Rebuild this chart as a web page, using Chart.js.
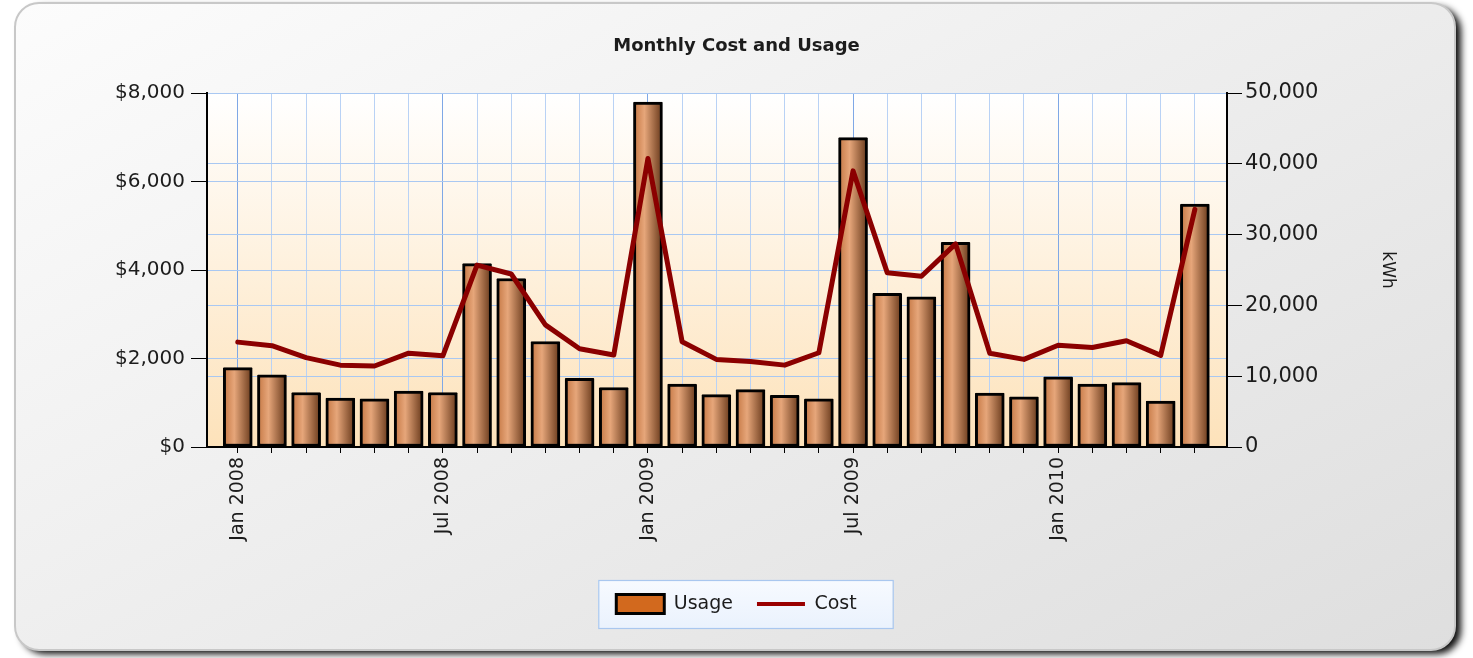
<!DOCTYPE html>
<html><head><meta charset="utf-8">
<script src="https://cdn.jsdelivr.net/npm/chart.js@4.4.1/dist/chart.umd.min.js"></script>
<style>html,body{margin:0;padding:0;background:#fff;overflow:hidden}</style>
</head><body><canvas id="c" width="1473" height="658"></canvas>
<script>
const months = ['Jan 2008','Feb 2008','Mar 2008','Apr 2008','May 2008','Jun 2008','Jul 2008','Aug 2008','Sep 2008','Oct 2008','Nov 2008','Dec 2008',
  'Jan 2009','Feb 2009','Mar 2009','Apr 2009','May 2009','Jun 2009','Jul 2009','Aug 2009','Sep 2009','Oct 2009','Nov 2009','Dec 2009',
  'Jan 2010','Feb 2010','Mar 2010','Apr 2010','May 2010'];
const shownMonthLabels = ['Jan 2008','Jul 2008','Jan 2009','Jul 2009','Jan 2010'];
const usageKWh = [11200,10200,7700,6900,6800,7900,7700,25900,23800,14900,9700,8400,
  48700,8900,7400,8100,7300,6800,43700,21700,21200,28900,7600,7100,
  9900,8900,9100,6500,34300];
const costUSD = [2370,2290,2020,1850,1830,2120,2060,4110,3910,2760,2220,2080,
  6520,2380,1980,1930,1850,2130,6240,3940,3860,4590,2120,1980,
  2300,2250,2400,2070,5370];
const costTicks = [0,2000,4000,6000,8000];
const kwhTicks = [0,10000,20000,30000,40000,50000];

const FONT = "'DejaVu Sans', Verdana, sans-serif";
const TXT = '#1c1c1c';

function rr(ctx,x,y,w,h,r){ctx.beginPath();ctx.moveTo(x+r,y);ctx.arcTo(x+w,y,x+w,y+h,r);ctx.arcTo(x+w,y+h,x,y+h,r);ctx.arcTo(x,y+h,x,y,r);ctx.arcTo(x,y,x+w,y,r);ctx.closePath();}

const backdrop = {
  id: 'backdrop',
  beforeDraw(chart) {
    const ctx = chart.ctx;
    ctx.save();
    ctx.fillStyle = '#ffffff';
    ctx.fillRect(0,0,chart.width,chart.height);
    ctx.save();
    ctx.shadowColor = 'rgba(0,0,0,0.95)';
    ctx.shadowBlur = 7;
    ctx.shadowOffsetX = 6;
    ctx.shadowOffsetY = 4;
    rr(ctx,15,3,1440,647,24);
    ctx.fillStyle = '#333';
    ctx.fill();
    ctx.restore();
    const g = ctx.createLinearGradient(15,3,700,1300);
    g.addColorStop(0,'#fcfcfc');
    g.addColorStop(1,'#d9d9d9');
    rr(ctx,15,3,1440,647,24);
    ctx.fillStyle = g;
    ctx.fill();
    ctx.lineWidth = 2;
    ctx.strokeStyle = '#c8c8c8';
    ctx.stroke();
    const a = chart.chartArea;
    const pg = ctx.createLinearGradient(0,a.top,0,a.bottom);
    pg.addColorStop(0,'#ffffff');
    pg.addColorStop(1,'#fde2ba');
    ctx.fillStyle = pg;
    ctx.fillRect(a.left,a.top,a.right-a.left,a.bottom-a.top);
    const lg = chart.legend;
    if (lg && lg.legendHitBoxes && lg.legendHitBoxes.length) {
      const hb = lg.legendHitBoxes;
      const l = hb[0].left - 18;
      const r = hb[hb.length-1].left + hb[hb.length-1].width + 36;
      const cy = hb[0].top + hb[0].height/2;
      const fg = ctx.createLinearGradient(0,cy-24,0,cy+24);
      fg.addColorStop(0,'#f7faff');
      fg.addColorStop(1,'#eaf2fd');
      ctx.fillStyle = fg;
      ctx.fillRect(l,cy-24,r-l,48);
      ctx.lineWidth = 1.2;
      ctx.strokeStyle = '#a9c7ef';
      ctx.strokeRect(l+0.5,cy-24+0.5,r-l,48);
    }
    ctx.restore();
  }
};

const barFill = (c) => {
  const xs = c.chart.scales.x;
  if (c.type !== 'data' || !xs) return '#d2691e';
  const cx = xs.getPixelForValue(c.dataIndex);
  const g = c.chart.ctx.createLinearGradient(cx-14.5,0,cx+14.5,0);
  g.addColorStop(0,'#c47642');
  g.addColorStop(0.38,'#e6a67a');
  g.addColorStop(1,'#663719');
  return g;
};

new Chart(document.getElementById('c'), {
  data: {
    datasets: [
      {
        type: 'line', label: 'Cost', order: 1, yAxisID: 'y',
        data: costUSD.map((v,i)=>({x:i,y:v})),
        borderColor: '#8b0000', backgroundColor: '#8b0000', borderWidth: 5,
        pointRadius: 0, tension: 0, borderJoinStyle: 'round', borderCapStyle: 'round'
      },
      {
        type: 'bar', label: 'Usage', order: 2, yAxisID: 'y1',
        data: usageKWh.map((v,i)=>({x:i,y:v})),
        backgroundColor: barFill, borderColor: '#000', borderWidth: 3,
        borderSkipped: false, barThickness: 29, borderRadius: 1
      }
    ]
  },
  options: {
    responsive: false, animation: false, devicePixelRatio: 1,
    layout: { padding: { left: 0, right: 0, top: 0, bottom: 34.5 } },
    plugins: {
      title: { display: true, text: 'Monthly Cost and Usage', color: TXT,
        font: { family: FONT, size: 18, weight: 'bold' }, padding: { top: 35.2, bottom: 36.2 } },
      legend: {
        display: true, position: 'bottom',
        labels: {
          usePointStyle: true, pointStyleWidth: 48, boxHeight: 20, padding: 24,
          color: TXT, font: { family: FONT, size: 19 },
          generateLabels: () => [
            { text: 'Usage', fillStyle: '#d2691e', strokeStyle: '#000', lineWidth: 3, pointStyle: 'rect', datasetIndex: 1, hidden: false, fontColor: TXT },
            { text: 'Cost', fillStyle: '#8b0000', strokeStyle: '#990000', lineWidth: 4, pointStyle: 'line', datasetIndex: 0, hidden: false, fontColor: TXT }
          ]
        }
      },
      tooltip: { enabled: false }
    },
    scales: {
      x: {
        type: 'linear', min: -0.9, max: 28.94, offset: false,
        afterFit: (s) => { s.height = 123.5; },
        ticks: {
          stepSize: 1, autoSkip: false, includeBounds: false, maxTicksLimit: 100,
          minRotation: 90, maxRotation: 90, padding: 4, color: TXT,
          font: { family: FONT, size: 19 },
          callback: (v) => {
            const lbl = months[v];
            return shownMonthLabels.includes(lbl) ? lbl : '';
          }
        },
        grid: {
          offset: false,
          color: (c) => (c.tick && c.tick.value % 6 === 0) ? '#7fa8e6' : '#b9d2f5',
          lineWidth: 1, tickLength: 6, tickColor: '#000'
        },
        border: { display: true, color: '#000', width: 2 }
      },
      y: {
        position: 'left', min: 0, max: 8000,
        afterFit: (s) => { s.width = 207; },
        afterBuildTicks: (s) => { s.ticks = costTicks.map(v=>({value:v})); },
        ticks: { color: TXT, font: { family: FONT, size: 20 }, padding: 6,
          callback: (v) => '$' + v.toLocaleString('en-US') },
        grid: { color: '#a9c8f2', lineWidth: 1, tickLength: 16, tickColor: '#000' },
        border: { display: true, color: '#000', width: 2 }
      },
      y1: {
        position: 'right', min: 0, max: 50000,
        afterFit: (s) => { s.width = 246; },
        afterBuildTicks: (s) => { s.ticks = kwhTicks.map(v=>({value:v})); },
        ticks: { color: TXT, font: { family: FONT, size: 21 }, padding: 3,
          callback: (v) => v.toLocaleString('en-US') },
        grid: { color: '#a9c8f2', lineWidth: 1, tickLength: 15, tickColor: '#000', drawOnChartArea: true },
        border: { display: true, color: '#000', width: 2 },
        title: { display: true, text: 'kWh', color: TXT, font: { family: FONT, size: 17 },
          padding: { top: 75.8, bottom: 0 } }
      }
    }
  },
  plugins: [backdrop]
});
</script>
</body></html>
